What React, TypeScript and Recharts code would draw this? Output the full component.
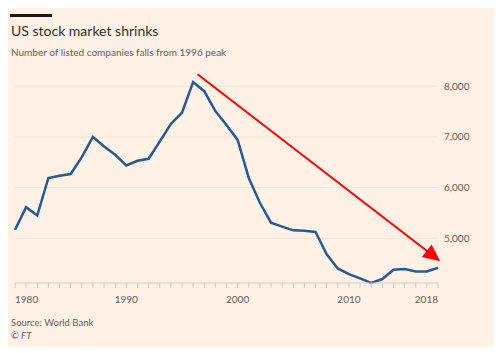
import { LineChart, Line, XAxis, YAxis, ReferenceLine } from "recharts";

const years = [
  1980, 1981, 1982, 1983, 1984, 1985, 1986, 1987, 1988, 1989,
  1990, 1991, 1992, 1993, 1994, 1995, 1996, 1997, 1998, 1999,
  2000, 2001, 2002, 2003, 2004, 2005, 2006, 2007, 2008, 2009,
  2010, 2011, 2012, 2013, 2014, 2015, 2016, 2017, 2018,
];

const listedCompanies = [
  5165, 5612, 5450, 6190, 6235, 6268, 6602, 7000, 6810, 6647,
  6437, 6529, 6569, 6908, 7255, 7477, 8080, 7902, 7510, 7235,
  6941, 6190, 5700, 5308, 5229, 5157, 5150, 5124, 4686, 4406,
  4294, 4210, 4118, 4196, 4379, 4392, 4347, 4347, 4418,
];

const yTicks = [5000, 6000, 7000, 8000];
const labeledYears = [1980, 1990, 2000, 2010, 2018];

// trend arrow, from just after the 1996 peak to the latest year
const arrowFrom = { x: 1996.4, y: 8235 };
const arrowTo = { x: 2018.2, y: 4549 };

const data = years.map((year, i) => ({ year, count: listedCompanies[i] }));

const FONT = "Lato, 'Open Sans', sans-serif";
const MUTED = "#66605c";

const formatNumber = (v: number) => v.toLocaleString("en-US");

function YearTick(props: any) {
  const { x, y, payload } = props;
  const v = payload.value;
  if (!labeledYears.includes(v)) return <g />;
  const anchor = v === years[0] ? "start" : v === years[years.length - 1] ? "end" : "middle";
  return (
    <text x={x} y={y + 11} textAnchor={anchor} fill={MUTED} fontSize={10} fontFamily={FONT}>
      {v}
    </text>
  );
}

function Arrow(props: any) {
  const { x1, y1, x2, y2 } = props;
  const dx = x2 - x1;
  const dy = y2 - y1;
  const len = Math.sqrt(dx * dx + dy * dy);
  const ux = dx / len;
  const uy = dy / len;
  const headLen = 17;
  const headHalf = 8;
  const bx = x2 - ux * headLen;
  const by = y2 - uy * headLen;
  const pts = [
    `${x2},${y2}`,
    `${bx - uy * headHalf},${by + ux * headHalf}`,
    `${bx + uy * headHalf},${by - ux * headHalf}`,
  ].join(" ");
  return (
    <g>
      <line x1={x1} y1={y1} x2={bx + ux * 2} y2={by + uy * 2} stroke="#ff0000" strokeWidth={2} />
      <polygon points={pts} fill="#ff0000" />
    </g>
  );
}

export default function App() {
  return (
    <div
      style={{
        position: "relative",
        width: 489,
        height: 341,
        marginLeft: -3,
        marginTop: -2,
        background: "#fff1e5",
        fontFamily: FONT,
      }}
    >
      <div style={{ position: "absolute", left: 5, top: 8, width: 42, height: 3, background: "#1a1817" }} />
      <div style={{ position: "absolute", left: 6, top: 16, fontSize: 14, color: "#33302e", whiteSpace: "nowrap" }}>
        US stock market shrinks
      </div>
      <div style={{ position: "absolute", left: 6, top: 40, fontSize: 10, color: MUTED, whiteSpace: "nowrap" }}>
        Number of listed companies falls from 1996 peak
      </div>

      <div style={{ position: "absolute", left: 0, top: 60 }}>
        <LineChart width={489} height={250} data={data} margin={{ top: 5, right: 10, bottom: 5, left: 10 }}>
          <XAxis
            dataKey="year"
            type="number"
            domain={[1980, 2018]}
            ticks={years}
            interval={0}
            height={28}
            tick={<YearTick />}
            tickSize={5}
            tickMargin={4}
            axisLine={{ stroke: "#d8cabd" }}
            tickLine={{ stroke: "#d8cabd" }}
          />
          <YAxis
            orientation="right"
            domain={[4130, 8300]}
            ticks={yTicks}
            width={46}
            tickFormatter={formatNumber}
            axisLine={false}
            tickLine={false}
            tickSize={0}
            tickMargin={6}
            tick={{ fill: MUTED, fontSize: 10, fontFamily: FONT }}
          />
          {yTicks.map((t) => (
            <ReferenceLine key={t} y={t} stroke="#f2e3d6" strokeWidth={1} />
          ))}
          <Line
            type="linear"
            dataKey="count"
            stroke="#265a95"
            strokeWidth={2.5}
            dot={false}
            isAnimationActive={false}
          />
          <ReferenceLine
            segment={[arrowFrom, arrowTo]}
            ifOverflow="visible"
            shape={(p: any) => <Arrow {...p} />}
          />
        </LineChart>
      </div>

      <div style={{ position: "absolute", left: 6, top: 311, fontSize: 9.5, color: MUTED, whiteSpace: "nowrap" }}>
        Source: World Bank
      </div>
      <div style={{ position: "absolute", left: 6, top: 324, fontSize: 9.5, color: MUTED, fontStyle: "italic" }}>
        © FT
      </div>
    </div>
  );
}
